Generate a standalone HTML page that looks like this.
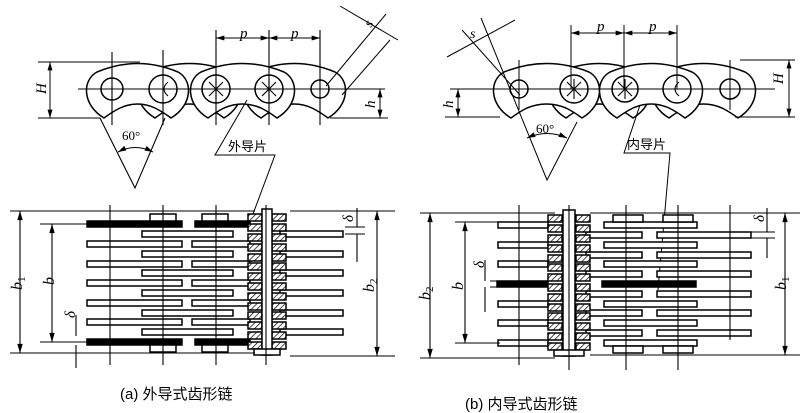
<!DOCTYPE html>
<html><head><meta charset="utf-8"><style>
html,body{margin:0;padding:0;background:#fff}
svg{display:block}
text{font-family:"Liberation Serif","Noto Serif CJK SC",serif;fill:#000}
.c{font-family:"Liberation Sans","Noto Sans CJK SC",sans-serif}
</style></head><body>
<svg width="804" height="413" viewBox="0 0 804 413" xmlns="http://www.w3.org/2000/svg">
<defs>
<pattern id="h" width="4" height="4" patternUnits="userSpaceOnUse" patternTransform="rotate(45)"><rect width="4" height="4" fill="#fff"/><line x1="0" y1="0" x2="0" y2="4" stroke="#000" stroke-width="1.4"/></pattern>
<marker id="a" viewBox="0 0 10 6" refX="10" refY="3" markerWidth="9" markerHeight="5" orient="auto-start-reverse"><path d="M0,0L10,3L0,6z" fill="#000"/></marker>
</defs>
<g fill="#fff" stroke="#000" stroke-width="1.5">
<path d="M155,118 C133,105 133,80 148,72 Q189.5,55 231,72 C246,80 246,105 224,118 Q216,112 208,108 Q189.5,100 171,108 Q163,112 155,118Z"/>
<path d="M261,118 C239,105 239,80 254,72 Q294.5,55 335,72 C350,80 350,105 328,118 Q320,112 312,108 Q294.5,100 277,108 Q269,112 261,118Z"/>
<path d="M104,118 C82,105 82,80 97,72 Q137.5,55 178,72 C193,80 193,105 171,118 Q163,112 155,108 Q137.5,100 120,108 Q112,112 104,118Z"/>
<path d="M208,118 C186,105 186,80 201,72 Q242.5,55 284,72 C299,80 299,105 277,118 Q269,112 261,108 Q242.5,100 224,108 Q216,112 208,118Z"/>
<circle cx="112" cy="89" r="11"/><circle cx="163" cy="89" r="14"/><circle cx="216" cy="89" r="14"/><circle cx="269" cy="89" r="14"/><circle cx="320" cy="89" r="9"/>
<path d="M566,118 C544,105 544,80 559,72 Q599.5,55 640,72 C655,80 655,105 633,118 Q625,112 617,108 Q599.5,100 582,108 Q574,112 566,118Z"/>
<path d="M669,118 C647,105 647,80 662,72 Q703.5,55 745,72 C760,80 760,105 738,118 Q730,112 722,108 Q703.5,100 685,108 Q677,112 669,118Z"/>
<path d="M511,118 C489,105 489,80 504,72 Q546.5,55 589,72 C604,80 604,105 582,118 Q574,112 566,108 Q546.5,100 527,108 Q519,112 511,118Z"/>
<path d="M617,118 C595,105 595,80 610,72 Q651,55 692,72 C707,80 707,105 685,118 Q677,112 669,108 Q651,100 633,108 Q625,112 617,118Z"/>
<circle cx="519" cy="89" r="9"/><circle cx="574" cy="89" r="14"/><circle cx="625" cy="89" r="13"/><circle cx="677" cy="89" r="14"/><circle cx="730" cy="89" r="10"/>
</g>
<g stroke="#000" stroke-width="1.1" fill="none">
<path d="M216,79 L216,99 M206,89 L226,89 M209,82 L223,96 M223,82 L209,96 M269,79 L269,99 M259,89 L279,89 M262,82 L276,96 M276,82 L262,96"/>
<path d="M574,79 L574,99 M564,89 L584,89 M567,82 L581,96 M581,82 L567,96 M625,79 L625,99 M615,89 L635,89 M618,82 L632,96 M632,82 L618,96"/>
<path d="M168,82 Q160,89 168,96 M679,82 Q671,89 679,96"/>
<path d="M78,89 H385 M38,62 H140 M38,118 H100 M330,118 H388 M112,52 V125 M163,50 V125 M216,30 V125 M269,30 V125 M320,30 V125"/>
<path d="M100,118 L135,188 L165,118"/>
</g>
<g stroke="#000" stroke-width="1" fill="none">
<line x1="50" y1="62" x2="50" y2="118" marker-start="url(#a)" marker-end="url(#a)"/>
<line x1="380" y1="89" x2="380" y2="118" marker-start="url(#a)" marker-end="url(#a)"/>
<line x1="216" y1="38" x2="269" y2="38" marker-start="url(#a)" marker-end="url(#a)"/>
<line x1="269" y1="38" x2="320" y2="38" marker-start="url(#a)" marker-end="url(#a)"/>
<path d="M118,152 Q135,143 153,152" marker-start="url(#a)" marker-end="url(#a)"/>
<path d="M326,86 L386,14 M342,95 L390,40 M340,6 L398,40"/>
<path d="M247,100 L215,155 H275 L250,222"/>
<path d="M450,89 H775 M445,117 H500 M735,117 H795 M740,60 H795 M571,25 V89 M624,25 V89 M677,25 V89 M519,60 V110 M730,60 V110"/>
<path d="M481,18 L547,180 L577,122"/>
<path d="M462,30 L520,95 M447,57 L515,20"/>
<line x1="789" y1="60" x2="789" y2="117" marker-start="url(#a)" marker-end="url(#a)"/>
<line x1="458" y1="89" x2="458" y2="117" marker-start="url(#a)" marker-end="url(#a)"/>
<line x1="571" y1="33" x2="624" y2="33" marker-start="url(#a)" marker-end="url(#a)"/>
<line x1="624" y1="33" x2="677" y2="33" marker-start="url(#a)" marker-end="url(#a)"/>
<path d="M527,138 Q547,129 567,138" marker-start="url(#a)" marker-end="url(#a)"/>
<path d="M640,105 L624,153 H670 L658,290"/>
</g>
<text x="122" y="140" font-size="13">60°</text>
<text x="536" y="133" font-size="13">60°</text>
<text x="240" y="38" font-size="15" font-style="italic">p</text>
<text x="291" y="38" font-size="15" font-style="italic">p</text>
<text x="597" y="31" font-size="15" font-style="italic">p</text>
<text x="649" y="31" font-size="15" font-style="italic">p</text>
<text transform="translate(46,94) rotate(-90)" font-size="15" font-style="italic">H</text>
<text transform="translate(375,108) rotate(-90)" font-size="15" font-style="italic">h</text>
<text transform="translate(783,84) rotate(-90)" font-size="15" font-style="italic">H</text>
<text transform="translate(453,108) rotate(-90)" font-size="15" font-style="italic">h</text>
<text transform="translate(371,28) rotate(-60)" font-size="14" font-style="italic">s</text>
<text x="470" y="38" font-size="14" font-style="italic">s</text>
<text x="228" y="151" class="c" font-size="13">外导片</text>
<text x="627" y="149" class="c" font-size="13">内导片</text>
<g stroke="#000" stroke-width="1.5" fill="#fff">
<rect x="87" y="221" width="95" height="6" fill="#000"/><rect x="195" y="221" width="55" height="6" fill="#000"/>
<rect x="142" y="231" width="91" height="6"/><rect x="280" y="231" width="63" height="6"/>
<rect x="87" y="241" width="95" height="6"/><rect x="192" y="241" width="58" height="6"/>
<rect x="142" y="251" width="91" height="6"/><rect x="280" y="251" width="63" height="6"/>
<rect x="87" y="261" width="95" height="6"/><rect x="192" y="261" width="58" height="6"/>
<rect x="142" y="270" width="91" height="6"/><rect x="280" y="270" width="63" height="6"/>
<rect x="87" y="280" width="95" height="6"/><rect x="192" y="280" width="58" height="6"/>
<rect x="142" y="290" width="91" height="6"/><rect x="280" y="290" width="63" height="6"/>
<rect x="87" y="300" width="95" height="6"/><rect x="192" y="300" width="58" height="6"/>
<rect x="142" y="310" width="91" height="6"/><rect x="280" y="310" width="63" height="6"/>
<rect x="87" y="319" width="95" height="6"/><rect x="192" y="319" width="58" height="6"/>
<rect x="142" y="329" width="91" height="6"/><rect x="280" y="329" width="63" height="6"/>
<rect x="87" y="339" width="95" height="6" fill="#000"/><rect x="195" y="339" width="55" height="6" fill="#000"/>
<rect x="150" y="214" width="26" height="7"/><rect x="202" y="214" width="26" height="7"/>
<rect x="150" y="345" width="26" height="7"/><rect x="202" y="345" width="26" height="7"/>
<g fill="url(#h)">
<rect x="248" y="214" width="14" height="7"/><rect x="272" y="214" width="14" height="7"/>
<rect x="248" y="224" width="14" height="7"/><rect x="272" y="224" width="14" height="7"/>
<rect x="248" y="234" width="14" height="7"/><rect x="272" y="234" width="14" height="7"/>
<rect x="248" y="244" width="14" height="7"/><rect x="272" y="244" width="14" height="7"/>
<rect x="248" y="254" width="14" height="7"/><rect x="272" y="254" width="14" height="7"/>
<rect x="248" y="263" width="14" height="7"/><rect x="272" y="263" width="14" height="7"/>
<rect x="248" y="273" width="14" height="7"/><rect x="272" y="273" width="14" height="7"/>
<rect x="248" y="283" width="14" height="7"/><rect x="272" y="283" width="14" height="7"/>
<rect x="248" y="293" width="14" height="7"/><rect x="272" y="293" width="14" height="7"/>
<rect x="248" y="303" width="14" height="7"/><rect x="272" y="303" width="14" height="7"/>
<rect x="248" y="312" width="14" height="7"/><rect x="272" y="312" width="14" height="7"/>
<rect x="248" y="322" width="14" height="7"/><rect x="272" y="322" width="14" height="7"/>
<rect x="248" y="332" width="14" height="7"/><rect x="272" y="332" width="14" height="7"/>
<rect x="248" y="342" width="14" height="7"/><rect x="272" y="342" width="14" height="7"/>
</g>
<rect x="262" y="209" width="10" height="146"/>
<rect x="254" y="349" width="26" height="6"/>
<rect x="498" y="222" width="50" height="6"/><rect x="604" y="222" width="93" height="6"/>
<rect x="586" y="232" width="56" height="6"/><rect x="657" y="232" width="94" height="6"/>
<rect x="498" y="242" width="50" height="6"/><rect x="604" y="242" width="93" height="6"/>
<rect x="586" y="252" width="56" height="6"/><rect x="657" y="252" width="94" height="6"/>
<rect x="498" y="261" width="50" height="6"/><rect x="604" y="261" width="93" height="6"/>
<rect x="586" y="271" width="56" height="6"/><rect x="657" y="271" width="94" height="6"/>
<rect x="497" y="281" width="51" height="6" fill="#000"/><rect x="602" y="281" width="94" height="6" fill="#000"/>
<rect x="586" y="291" width="56" height="6"/><rect x="657" y="291" width="94" height="6"/>
<rect x="498" y="301" width="50" height="6"/><rect x="604" y="301" width="93" height="6"/>
<rect x="586" y="310" width="56" height="6"/><rect x="657" y="310" width="94" height="6"/>
<rect x="498" y="320" width="50" height="6"/><rect x="604" y="320" width="93" height="6"/>
<rect x="586" y="330" width="56" height="6"/><rect x="657" y="330" width="94" height="6"/>
<rect x="498" y="340" width="50" height="6"/><rect x="604" y="340" width="93" height="6"/>
<rect x="613" y="215" width="30" height="7"/><rect x="663" y="215" width="30" height="7"/>
<rect x="613" y="346" width="30" height="7"/><rect x="663" y="346" width="30" height="7"/>
<g fill="url(#h)">
<rect x="548" y="215" width="14" height="7"/><rect x="576" y="215" width="14" height="7"/>
<rect x="548" y="225" width="14" height="7"/><rect x="576" y="225" width="14" height="7"/>
<rect x="548" y="235" width="14" height="7"/><rect x="576" y="235" width="14" height="7"/>
<rect x="548" y="245" width="14" height="7"/><rect x="576" y="245" width="14" height="7"/>
<rect x="548" y="255" width="14" height="7"/><rect x="576" y="255" width="14" height="7"/>
<rect x="548" y="264" width="14" height="7"/><rect x="576" y="264" width="14" height="7"/>
<rect x="548" y="274" width="14" height="7"/><rect x="576" y="274" width="14" height="7"/>
<rect x="548" y="284" width="14" height="7"/><rect x="576" y="284" width="14" height="7"/>
<rect x="548" y="294" width="14" height="7"/><rect x="576" y="294" width="14" height="7"/>
<rect x="548" y="304" width="14" height="7"/><rect x="576" y="304" width="14" height="7"/>
<rect x="548" y="313" width="14" height="7"/><rect x="576" y="313" width="14" height="7"/>
<rect x="548" y="323" width="14" height="7"/><rect x="576" y="323" width="14" height="7"/>
<rect x="548" y="333" width="14" height="7"/><rect x="576" y="333" width="14" height="7"/>
<rect x="548" y="343" width="14" height="7"/><rect x="576" y="343" width="14" height="7"/>
</g>
<rect x="563" y="210" width="12" height="146"/>
<rect x="554" y="350" width="30" height="6"/>
</g>
<g stroke="#000" stroke-width="1.1" fill="none">
<path d="M266,205 V365 M569,205 V370 M110,205 V365 M163,205 V365 M216,205 V365 M519,205 V365 M626,205 V370 M678,205 V370 M730,205 V340"/>
<path d="M10,211 H255 M10,353 H255 M40,224 H90 M40,342 H90 M290,211 H395 M290,356 H395 M345,234 H365 M345,227 H365"/>
<path d="M420,213 H555 M420,358 H555 M455,222 H500 M455,343 H500 M590,213 H800 M590,355 H800 M490,281 H500 M490,287 H500 M750,232 H775 M750,238 H775"/>
<line x1="20" y1="211" x2="20" y2="353" marker-start="url(#a)" marker-end="url(#a)"/>
<line x1="52" y1="224" x2="52" y2="342" marker-start="url(#a)" marker-end="url(#a)"/>
<line x1="377" y1="211" x2="377" y2="356" marker-start="url(#a)" marker-end="url(#a)"/>
<line x1="430" y1="213" x2="430" y2="358" marker-start="url(#a)" marker-end="url(#a)"/>
<line x1="465" y1="222" x2="465" y2="343" marker-start="url(#a)" marker-end="url(#a)"/>
<line x1="785" y1="213" x2="785" y2="355" marker-start="url(#a)" marker-end="url(#a)"/>
<path d="M357,208 V227 M357,234 V262 M76,315 V336 M76,345 V368 M485,260 V281 M485,287 V312 M767,208 V232 M767,238 V258"/>
</g>
<text transform="translate(22,290) rotate(-90)" font-size="16" font-style="italic">b<tspan font-size="11" font-style="normal" dy="3">1</tspan></text>
<text transform="translate(54,285) rotate(-90)" font-size="16" font-style="italic">b</text>
<text transform="translate(374,292) rotate(-90)" font-size="16" font-style="italic">b<tspan font-size="11" font-style="normal" dy="3">2</tspan></text>
<text transform="translate(353,222) rotate(-90)" font-size="15" font-style="italic">δ</text>
<text transform="translate(75,318) rotate(-90)" font-size="15" font-style="italic">δ</text>
<text transform="translate(430,300) rotate(-90)" font-size="16" font-style="italic">b<tspan font-size="11" font-style="normal" dy="3">2</tspan></text>
<text transform="translate(463,290) rotate(-90)" font-size="16" font-style="italic">b</text>
<text transform="translate(786,290) rotate(-90)" font-size="16" font-style="italic">b<tspan font-size="11" font-style="normal" dy="3">1</tspan></text>
<text transform="translate(484,268) rotate(-90)" font-size="15" font-style="italic">δ</text>
<text transform="translate(764,222) rotate(-90)" font-size="15" font-style="italic">δ</text>
<text x="120" y="399" class="c" font-size="15">(a) 外导式齿形链</text>
<text x="465" y="409" class="c" font-size="15">(b) 内导式齿形链</text>
</svg>
</body></html>
